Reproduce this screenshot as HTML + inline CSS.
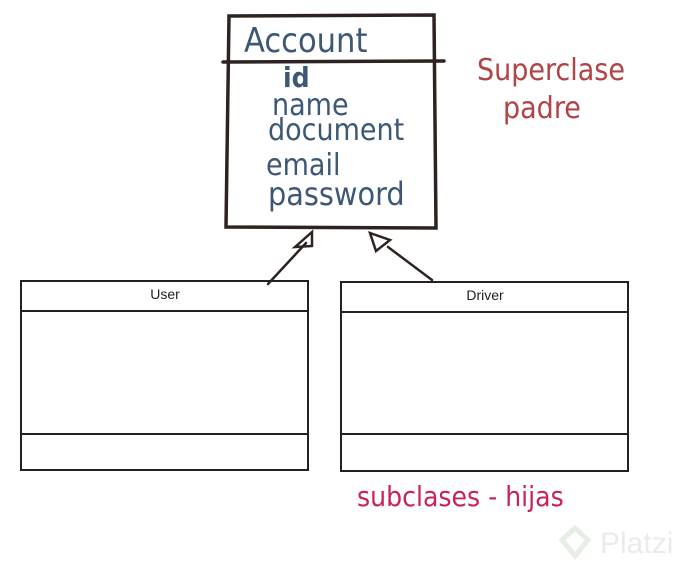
<!DOCTYPE html>
<html><head><meta charset="utf-8"><style>
html,body{margin:0;padding:0;background:#fff;width:698px;height:564px;overflow:hidden}
svg{display:block}
.hand{font-family:"DejaVu Sans Condensed","Liberation Sans",sans-serif}
</style></head><body>
<svg width="698" height="564" viewBox="0 0 698 564" xmlns="http://www.w3.org/2000/svg">
<g stroke="#2e2320" stroke-width="3.5" fill="none" stroke-linecap="round">
<path d="M229 16 L434 15 L436 228 L226 227 Z"/>
<path d="M223 62 L444 61"/>
<path d="M268 284 L306 243" stroke-width="2.5"/>
<path d="M295 247 L312 232 L312 246 Z" stroke-width="2.5"/>
<path d="M388 247 L432 280" stroke-width="2.5"/>
<path d="M370 233 L390 240 L376 251 Z" stroke-width="2.5"/>
</g>
<g class="hand" fill="#3d5876" font-size="30" font-weight="300">
<text x="244" y="52" font-size="34">Account</text>
<text x="283" y="87" font-weight="bold" font-size="28">id</text>
<text x="272" y="115">name</text>
<text x="268" y="140">document</text>
<text x="266" y="175">email</text>
<text x="268" y="205" font-size="32">password</text>
</g>
<g class="hand" fill="#b04447" font-size="30">
<text x="477" y="80">Superclase</text>
<text x="503" y="118">padre</text>
</g>
<g stroke="#222" stroke-width="2" fill="none">
<rect x="21" y="281" width="287" height="189"/>
<line x1="21" y1="311" x2="308" y2="311"/>
<line x1="21" y1="434" x2="308" y2="434"/>
<rect x="341" y="282" width="287" height="189"/>
<line x1="341" y1="312" x2="628" y2="312"/>
<line x1="341" y1="434" x2="628" y2="434"/>
</g>
<g font-family="Liberation Sans,sans-serif" font-size="14" fill="#222" text-anchor="middle">
<text x="165" y="299">User</text>
<text x="485" y="300">Driver</text>
</g>
<text class="hand" x="357" y="506" font-size="28" fill="#c8245a">subclases - hijas</text>
<text x="600" y="553" font-family="Liberation Sans,sans-serif" font-size="30" fill="#e9ece9">Platzi</text>
<path d="M575 528 L588 540 L575 556 L562 540 Z" fill="none" stroke="#e7eee6" stroke-width="5"/>
</svg>
</body></html>
